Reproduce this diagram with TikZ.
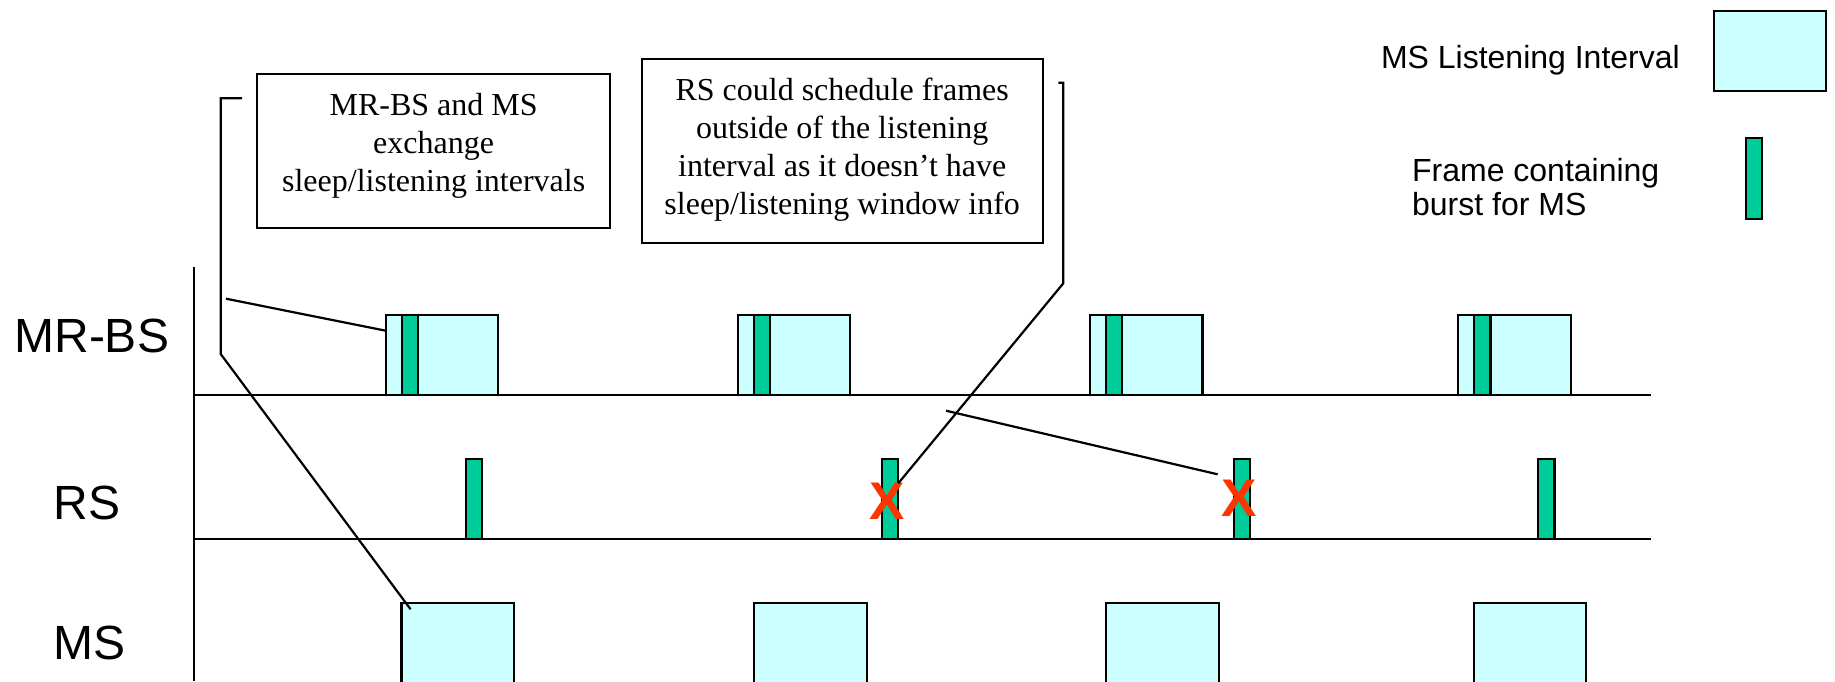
\documentclass[tikz,border=0pt]{standalone}
\usepackage{fontspec}
\setmainfont{Liberation Serif}
\setsansfont{Liberation Sans}
\definecolor{listencyan}{HTML}{CCFFFF}
\definecolor{burstgreen}{HTML}{00CC99}
\definecolor{dropred}{HTML}{FF3300}
\begin{document}
\begin{tikzpicture}[x=0.5pt,y=-0.5pt,line width=1.1pt,
  listen/.style={draw,fill=listencyan,inner sep=0pt,minimum width=56.3pt,minimum height=40pt},
  msbox/.style={draw,fill=listencyan,inner sep=0pt,minimum width=56.3pt,minimum height=78.65pt},
  burst/.style={draw,fill=burstgreen,inner sep=0pt,minimum width=8.2pt,minimum height=40pt},
  notebox/.style={draw,inner sep=0pt},
  notetext/.style={font=\fontsize{16}{19}\selectfont,align=center,inner sep=0pt},
  rowlabel/.style={font=\sffamily\fontsize{24}{28}\selectfont,inner sep=0pt,anchor=base},
  legendtext/.style={font=\sffamily\fontsize{16}{17}\selectfont,inner sep=0pt,anchor=base west},
  drop/.style={text=dropred,font=\sffamily\bfseries\fontsize{26.5}{30}\selectfont,inner sep=0pt},
  callout/.style={line width=1.1pt}]
\useasboundingbox (0,0) rectangle (1835,681);

% row labels
\node[rowlabel] (lbs) at (91.7,352) {MR-BS};
\node[rowlabel] (lrs) at (86.7,519) {RS};
\node[rowlabel] (lms) at (89.5,659.3) {MS};

% time axes
\draw (194,266.7) -- (194,681);
\draw (194,395) -- (1650.7,395);
\draw (194,539) -- (1650.7,539);

% MR-BS listening intervals with bursts
\foreach \i/\l in {1/385.7,2/737.7,3/1089.8,4/1458}{
  \node[listen] (bs\i) at (\l+56.3,355) {};
  \node[burst] (bb\i) at (\l+24.2,355) {};
}

% RS bursts
\foreach \i/\c in {1/474,2/890,3/1242.1,4/1546.2}{
  \node[burst] (rs\i) at (\c,499) {};
}

% MS listening intervals (running off the bottom edge)
\begin{scope}
\clip (0,0) rectangle (1835,681);
\foreach \i/\l in {1/401.4,2/754,3/1106.3,4/1473.7}{
  \node[msbox] (ms\i) at (\l+56.3,681.35) {};
}
\end{scope}

% dropped bursts
\node[drop] (x2) at (887,500.8) {X};
\node[drop] (x3) at (1239.3,497.8) {X};

% notes
\node[notebox,minimum width=176.35pt,minimum height=76.85pt] (n1) at (433.65,150.85) {};
\node[notetext] (t1) at (433.65,146) {MR-BS and MS\\exchange\\sleep/listening intervals};
\node[notebox,minimum width=200.5pt,minimum height=91.85pt] (n2) at (842.2,150.85) {};
\node[notetext] (t2) at (842.2,150) {RS could schedule frames\\outside of the listening\\interval as it doesn’t have\\sleep/listening window info};

% callout connectors
\coordinate (c1a) at (242,98.3);
\coordinate (c1b) at (220.7,98.3);
\coordinate (c1c) at (220.7,354);
\coordinate (c1d) at (410.6,609.3);
\coordinate (c1e) at (226,298.7);
\coordinate (c1f) at (385.7,330.7);
\draw[callout] (c1a) -- (c1b) -- (c1c) -- (c1d);
\draw[callout] (c1e) -- (c1f);

\coordinate (c2a) at (1058.3,82.7);
\coordinate (c2b) at (1063.3,82.7);
\coordinate (c2c) at (1063.3,283.3);
\coordinate (c2d) at (898.3,483.3);
\coordinate (c2e) at (946,410.7);
\coordinate (c2f) at (1217.6,474.3);
\draw[callout] (c2a) -- (c2b) -- (c2c) -- (c2d);
\draw[callout] (c2e) -- (c2f);

% legend
\node[legendtext] (leg1) at (1379.9,68.3) {MS Listening Interval};
\node[listen,minimum width=56pt] (legbox) at (1769.7,51) {};
\node[legendtext] (leg2a) at (1411,181.7) {Frame containing};
\node[legendtext] (leg2b) at (1411,215) {burst for MS};
\node[burst,minimum height=40.35pt] (legbar) at (1754.15,178.65) {};
\end{tikzpicture}
\end{document}
